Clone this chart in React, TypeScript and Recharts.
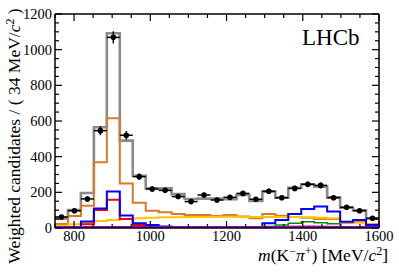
import React from 'react';
import { ComposedChart, Line, Scatter, XAxis, YAxis, ErrorBar, Label } from 'recharts';

// ---- data (34 MeV bins from 750 to 1600) ----
const binEdges = [750, 784, 818, 852, 886, 920, 954, 988, 1022, 1056, 1090, 1124, 1158, 1192, 1226, 1260, 1294, 1328, 1362, 1396, 1430, 1464, 1498, 1532, 1566, 1600];
const binCenters = [767, 801, 835, 869, 903, 937, 971, 1005, 1039, 1073, 1107, 1141, 1175, 1209, 1243, 1277, 1311, 1345, 1379, 1413, 1447, 1481, 1515, 1549, 1583];
const halfBinWidth = 17;

const dataCounts = [62, 97, 163, 546, 1069, 520, 288, 219, 211, 176, 148, 185, 157, 172, 194, 161, 206, 170, 222, 245, 239, 170, 116, 97, 54];
const dataErrors = [9, 11, 14, 25, 34, 24, 17, 15, 15, 14, 13, 14, 13, 13, 14, 13, 15, 13, 15, 16, 16, 13, 11, 10, 8];

const totalFit = [54, 100, 196, 565, 1092, 490, 293, 222, 222, 190, 163, 165, 165, 162, 185, 151, 204, 170, 226, 245, 232, 172, 114, 99, 54];
const orangeComp = [22, 67, 125, 368, 615, 250, 142, 97, 88, 79, 73, 73, 67, 73, 65, 54, 78, 69, 62, 58, 50, 50, 30, 39, 21];
const yellowComp = [13, 21, 30, 39, 45, 50, 54, 58, 60, 60, 61, 62, 63, 63, 62, 62, 62, 62, 61, 60, 58, 54, 33, 30, 18];
const redComp = [0, 0, 21, 101, 159, 50, 17, 8, 4, 3, 2, 2, 2, 2, 2, 2, 2, 2, 2, 2, 2, 2, 1, 1, 1];
const blueComp = [0, 2, 36, 110, 204, 70, 26, 17, 8, 6, 4, 3, 3, 3, 4, 4, 26, 45, 78, 106, 120, 92, 35, 45, 17];
const greenComp = [0, 0, 0, 1, 1, 1, 1, 1, 1, 1, 1, 1, 1, 1, 1, 2, 8, 17, 26, 35, 30, 24, 6, 3, 1];
const magentaComp = [0, 0, 2, 3, 4, 3, 3, 3, 3, 3, 3, 3, 3, 3, 3, 3, 5, 7, 10, 11, 10, 8, 4, 3, 2];
const purpleComp = [3, 3, 3, 3, 3, 3, 3, 3, 3, 3, 3, 3, 3, 3, 3, 3, 3, 3, 3, 3, 3, 3, 3, 3, 3];

const xTicks = [750, 800, 850, 900, 950, 1000, 1050, 1100, 1150, 1200, 1250, 1300, 1350, 1400, 1450, 1500, 1550, 1600];
const xLabels = [800, 1000, 1200, 1400, 1600];
const yTicks = [0, 50, 100, 150, 200, 250, 300, 350, 400, 450, 500, 550, 600, 650, 700, 750, 800, 850, 900, 950, 1000, 1050, 1100, 1150, 1200];
const yLabels = [0, 200, 400, 600, 800, 1000, 1200];

const histRows = binEdges.map((x, i) => {
  const j = Math.min(i, binCenters.length - 1);
  return {
    x,
    total: totalFit[j],
    orange: orangeComp[j],
    yellow: yellowComp[j],
    red: redComp[j],
    blue: blueComp[j],
    green: greenComp[j],
    magenta: magentaComp[j],
    purple: purpleComp[j],
  };
});

const pointRows = binCenters.map((x, i) => ({ x, y: dataCounts[i], yerr: dataErrors[i], xerr: halfBinWidth }));

const FONT = '"Liberation Serif", "Times New Roman", serif';
const MAJOR = 7;
const MINOR = 4;

const BottomTick = (props: any) => {
  const { x, y, payload } = props;
  const v = payload.value;
  const major = xLabels.includes(v);
  return (
    <g>
      <line x1={x} y1={y} x2={x} y2={y - (major ? MAJOR : MINOR)} stroke="#000" strokeWidth={1.2} />
      {major && (
        <text x={x} y={y + 13} textAnchor="middle" fontFamily={FONT} fontSize={14.5} fill="#000">
          {v}
        </text>
      )}
    </g>
  );
};

const TopTick = (props: any) => {
  const { x, y, payload } = props;
  const major = xLabels.includes(payload.value);
  return <line x1={x} y1={y} x2={x} y2={y + (major ? MAJOR : MINOR)} stroke="#000" strokeWidth={1.2} />;
};

const LeftTick = (props: any) => {
  const { x, y, payload } = props;
  const v = payload.value;
  const major = yLabels.includes(v);
  return (
    <g>
      <line x1={x} y1={y} x2={x + (major ? MAJOR : MINOR)} y2={y} stroke="#000" strokeWidth={1.2} />
      {major && (
        <text x={x - 3} y={y + 5} textAnchor="end" fontFamily={FONT} fontSize={14.5} fill="#000">
          {v}
        </text>
      )}
    </g>
  );
};

const RightTick = (props: any) => {
  const { x, y, payload } = props;
  const major = yLabels.includes(payload.value);
  return <line x1={x} y1={y} x2={x - (major ? MAJOR : MINOR)} y2={y} stroke="#000" strokeWidth={1.2} />;
};

const renderXTitle = () => (
  <text x={388} y={261} textAnchor="end" fontFamily={FONT} fontSize={17.5} fill="#000">
    <tspan fontStyle="italic">m</tspan>
    <tspan>(K</tspan>
    <tspan dy={-6} fontSize={12}>−</tspan>
    <tspan dy={6} fontStyle="italic">π</tspan>
    <tspan dy={-6} fontSize={12}>+</tspan>
    <tspan dy={6}>) [MeV/</tspan>
    <tspan fontStyle="italic">c</tspan>
    <tspan dy={-6} fontSize={12}>2</tspan>
    <tspan dy={6}>]</tspan>
  </text>
);

const renderYTitle = () => (
  <text
    x={0}
    y={0}
    transform="translate(20,136) rotate(-90)"
    textAnchor="middle"
    fontFamily={FONT}
    fontSize={17.5}
    fill="#000"
  >
    <tspan>Weighted candidates / ( 34 MeV/</tspan>
    <tspan fontStyle="italic">c</tspan>
    <tspan dy={-6} fontSize={12}>2</tspan>
    <tspan dy={6}> )</tspan>
  </text>
);

const renderLHCb = () => (
  <text x={302} y={45} fontFamily={FONT} fontSize={23} fill="#000">
    LHCb
  </text>
);

const Dot = (props: any) => <circle cx={props.cx} cy={props.cy} r={2.8} fill="#000" />;

export default function App() {
  return (
    <div style={{ position: 'absolute', left: 0, top: 0, width: 399, height: 272, background: '#fff' }}>
      <ComposedChart
        width={399}
        height={272}
        data={histRows}
        margin={{ top: 13, right: 19, bottom: 0, left: 0 }}
      >
        <XAxis
          xAxisId="bottom"
          dataKey="x"
          type="number"
          domain={[750, 1600]}
          allowDataOverflow
          ticks={xTicks}
          interval={0}
          height={44}
          tickSize={0}
          tickMargin={0}
          tickLine={false}
          axisLine={{ stroke: '#000', strokeWidth: 1.5 }}
          tick={<BottomTick />}
        >
          <Label content={renderXTitle} />
        </XAxis>
        <XAxis
          xAxisId="top"
          orientation="top"
          dataKey="x"
          type="number"
          domain={[750, 1600]}
          allowDataOverflow
          ticks={xTicks}
          interval={0}
          height={1}
          tickSize={0}
          tickMargin={0}
          tickLine={false}
          axisLine={{ stroke: '#000', strokeWidth: 1.5 }}
          tick={<TopTick />}
        >
          <Label content={renderLHCb} />
        </XAxis>
        <YAxis
          yAxisId="left"
          type="number"
          domain={[0, 1200]}
          allowDataOverflow
          ticks={yTicks}
          interval={0}
          width={55}
          tickSize={0}
          tickMargin={0}
          tickLine={false}
          axisLine={{ stroke: '#000', strokeWidth: 1.5 }}
          tick={<LeftTick />}
        >
          <Label content={renderYTitle} />
        </YAxis>
        <YAxis
          yAxisId="right"
          orientation="right"
          type="number"
          domain={[0, 1200]}
          allowDataOverflow
          ticks={yTicks}
          interval={0}
          width={1}
          tickSize={0}
          tickMargin={0}
          tickLine={false}
          axisLine={{ stroke: '#000', strokeWidth: 1.5 }}
          tick={<RightTick />}
        />

        {/* invisible series that binds the frame axes (top / right) */}
        <Line xAxisId="top" yAxisId="right" type="stepAfter" dataKey="total" stroke="none" strokeWidth={0} dot={false} activeDot={false} isAnimationActive={false} />

        <Line xAxisId="bottom" yAxisId="left" type="stepAfter" dataKey="total" stroke="#8a8a8a" strokeWidth={2.6} dot={false} isAnimationActive={false} />
        <Line xAxisId="bottom" yAxisId="left" type="stepAfter" dataKey="orange" stroke="#d9792a" strokeWidth={2} dot={false} isAnimationActive={false} />
        <Line xAxisId="bottom" yAxisId="left" type="stepAfter" dataKey="yellow" stroke="#ffc400" strokeWidth={2} dot={false} isAnimationActive={false} />
        <Line xAxisId="bottom" yAxisId="left" type="stepAfter" dataKey="red" stroke="#ff0000" strokeWidth={2} dot={false} isAnimationActive={false} />
        <Line xAxisId="bottom" yAxisId="left" type="stepAfter" dataKey="blue" stroke="#0000ff" strokeWidth={2} dot={false} isAnimationActive={false} />
        <Line xAxisId="bottom" yAxisId="left" type="stepAfter" dataKey="green" stroke="#008a00" strokeWidth={1.5} dot={false} isAnimationActive={false} />
        <Line xAxisId="bottom" yAxisId="left" type="stepAfter" dataKey="magenta" stroke="#ff33cc" strokeWidth={1.5} dot={false} isAnimationActive={false} />
        <Line xAxisId="bottom" yAxisId="left" type="stepAfter" dataKey="purple" stroke="#9a00c8" strokeWidth={3} dot={false} isAnimationActive={false} />

        <Scatter
          xAxisId="bottom"
          yAxisId="left"
          data={pointRows}
          dataKey="y"
          shape={<Dot />}
          isAnimationActive={false}
        >
          <ErrorBar dataKey="yerr" direction="y" width={0} stroke="#000" strokeWidth={1.5} isAnimationActive={false} />
          <ErrorBar dataKey="xerr" direction="x" width={0} stroke="#000" strokeWidth={1.5} isAnimationActive={false} />
        </Scatter>
      </ComposedChart>
    </div>
  );
}
